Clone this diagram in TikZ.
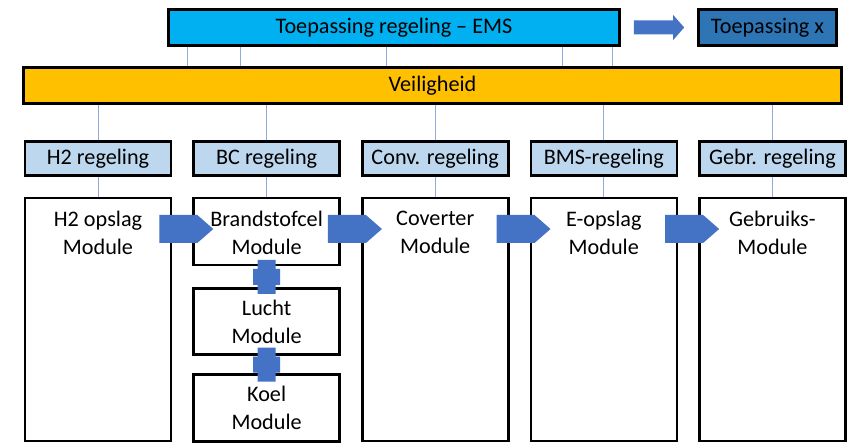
\documentclass[tikz,border=0pt]{standalone}
\usepackage{fontspec}
\setmainfont{Carlito}
\usetikzlibrary{positioning, calc}

\definecolor{emsblue}{RGB}{0,176,240}
\definecolor{appblue}{RGB}{46,117,182}
\definecolor{safety}{RGB}{255,192,0}
\definecolor{ctrlblue}{RGB}{189,215,238}
\definecolor{flowblue}{RGB}{68,114,196}
\definecolor{linkblue}{RGB}{143,170,220}

\begin{document}
\begin{tikzpicture}[
	x = 1pt, y = -1pt, % pixel units, y runs down
	node distance = 20pt, % gap between boxes
	font = \fontsize{22.2}{28}\selectfont
	]
	
	\tikzstyle{blok}=[
	draw = black,
	line width = 2.6pt,
	rectangle,
	align = center,
	inner sep = 2pt
	]
	\tikzstyle{regeling}=[blok, fill = ctrlblue, minimum width = 146pt, minimum height = 34pt]
	\tikzstyle{module}=[blok, fill = white, minimum width = 146pt]
	\tikzstyle{modtext}=[align = center, inner sep = 0pt]
	\tikzstyle{lijn}=[draw = linkblue, line width = 0.8pt]
	\tikzstyle{flow}=[fill = flowblue, to path = {
		($(\tikztostart)+(-13,-14)$) -- ($(\tikztotarget)+(5,-14)$) -- ($(\tikztotarget)+(21,0)$)
		-- ($(\tikztotarget)+(5,14)$) -- ($(\tikztostart)+(-13,14)$) -- cycle}]
	
	\useasboundingbox (0,0) rectangle (851,446);
	
	% top row
	\node[blok, fill=emsblue, minimum width=451pt, minimum height=36pt] (ems) at (394,27.5) {Toepassing regeling -- EMS};
	\node[blok, fill=appblue, minimum width=138pt, minimum height=36pt] (toepx) at (767.5,27.5) {Toepassing x};
	\node[blok, fill=safety, minimum width=818pt, minimum height=36pt] (veil) at (432.5,85.5) {Veiligheid};
	
	% regelingen
	\node[regeling] (h2r) at (98,158.5) {H2 regeling};
	\node[regeling, right=of h2r] (bcr) {BC regeling};
	\node[regeling, right=of bcr] (convr) {Conv. regeling};
	\node[regeling, right=of convr] (bmsr) {BMS-regeling};
	\node[regeling, right=of bmsr] (gebrr) {Gebr. regeling};
	
	% modules
	\node[module, minimum height=243pt, below=of h2r] (h2) {};
	\node[module, minimum height=67pt, below=of bcr] (bc) {};
	\node[module, minimum height=66pt, below=21pt of bc] (lucht) {Lucht\\Module};
	\node[module, minimum height=67pt, below=17pt of lucht] (koel) {Koel\\Module};
	\node[module, minimum height=243pt, below=of convr] (conv) {};
	\node[module, minimum height=243pt, below=of bmsr] (eop) {};
	\node[module, minimum height=243pt, below=of gebrr] (gebr) {};
	
	\node[modtext, below=14pt of h2.north] {H2 opslag\\Module};
	\node[modtext, below=14pt of bc.north] {Brandstofcel\\Module};
	\node[modtext, below=14pt of conv.north] {Coverter\\Module};
	\node[modtext, below=14pt of eop.north] {E-opslag\\Module};
	\node[modtext, below=14pt of gebr.north] {Gebruiks-\\Module};
	
	% thin links
	\foreach \x in {187,240,386,562,612}
		\draw[lijn] (ems.south -| \x,0) -- (veil.north -| \x,0);
	\foreach \r/\m in {h2r/h2, bcr/bc, convr/conv, bmsr/eop, gebrr/gebr} {
		\draw[lijn] (veil.south -| \r.north) -- (\r.north);
		\draw[lijn] (\r.south) -- (\m.north);
	}
	
	% block arrows
	\fill[flowblue] ($(ems.east)+(13,-7)$) -- ($(toepx.west)+(-24,-7)$) -- ($(toepx.west)+(-24,-12.5)$)
		-- ($(toepx.west)+(-13,0)$) -- ($(toepx.west)+(-24,12.5)$) -- ($(toepx.west)+(-24,7)$)
		-- ($(ems.east)+(13,7)$) -- cycle;
	\coordinate (pijlrij) at (0,229);
	\path[flow] (h2.east |- pijlrij) to (bc.west |- pijlrij);
	\path[flow] (bc.east |- pijlrij) to (conv.west |- pijlrij);
	\path[flow] (conv.east |- pijlrij) to (eop.west |- pijlrij);
	\path[flow] (eop.east |- pijlrij) to (gebr.west |- pijlrij);
	
	% joints in the BC stack
	\foreach \a/\b in {bc/lucht, lucht/koel}
		\fill[flowblue] ($(\a.south)!.5!(\b.north)$) ++(-9,-17) -- ++(18,0) -- ++(0,9) -- ++(4.5,0)
			-- ++(0,16) -- ++(-4.5,0) -- ++(0,9) -- ++(-18,0) -- ++(0,-9) -- ++(-4.5,0)
			-- ++(0,-16) -- ++(4.5,0) -- cycle;
	
\end{tikzpicture}
\end{document}
